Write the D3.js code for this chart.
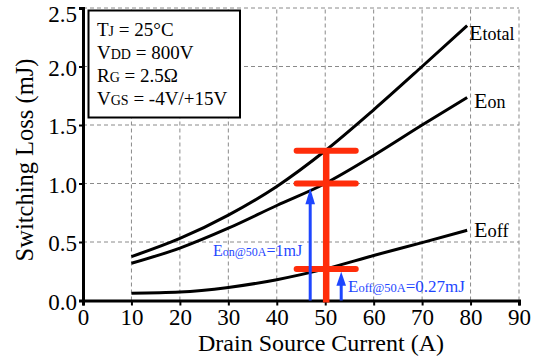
<!DOCTYPE html>
<html>
<head>
<meta charset="utf-8">
<script src="https://cdn.jsdelivr.net/npm/d3@7"></script>
<style>
  html, body { margin: 0; padding: 0; background: #fff; }
  svg { display: block; font-family: "Liberation Serif", "Times New Roman", serif; }
  svg text { font-family: "Liberation Serif", "Times New Roman", serif; }
</style>
</head>
<body>
<svg id="chart" width="541" height="360"></svg>
<script>
// ---- data ----
const current = [10, 20, 30, 40, 50, 60, 70, 79.3];
const eTotal  = [0.375, 0.53, 0.73, 0.975, 1.28, 1.63, 2.00, 2.35];
const eOn     = [0.318, 0.448, 0.618, 0.812, 1.00, 1.24, 1.50, 1.735];
const eOff    = [0.062, 0.072, 0.112, 0.178, 0.27, 0.385, 0.495, 0.60];
const xTicks  = [0, 10, 20, 30, 40, 50, 60, 70, 80, 90];
const yTicks  = [0.0, 0.5, 1.0, 1.5, 2.0, 2.5];
const markerCurrent = 50.2;
const markerLevels  = [1.28, 1.0, 0.27];
const markerHalfWidth = 6.1;
const arrowCurrents = [46.9, 53.3];
const arrowTips     = [0.96, 0.245];

// ---- layout ----
const FONT = "Liberation Serif, Times New Roman, serif";
const svg = d3.select("#chart");
const x = d3.scaleLinear().domain([0, 90]).range([83, 519]);
const y = d3.scaleLinear().domain([0, 2.5]).range([300.5, 8]);
const RED = "#ff2d0a", BLUE = "#1e46ff";

// grid
const grid = svg.append("g");
grid.selectAll("line.vx").data(xTicks.slice(1)).join("line")
  .attr("x1", d => x(d)).attr("x2", d => x(d)).attr("y1", y(0)).attr("y2", y(2.5))
  .attr("stroke", "#8a8a8a").attr("stroke-width", 1).attr("stroke-dasharray", "4,3");
grid.selectAll("line.hy").data(yTicks.slice(1)).join("line")
  .attr("y1", d => y(d)).attr("y2", d => y(d)).attr("x1", x(0)).attr("x2", x(90))
  .attr("stroke", "#8a8a8a").attr("stroke-width", 1).attr("stroke-dasharray", "4,3");

// axes
const xAxis = svg.append("g").attr("transform", `translate(0,${y(0)})`)
  .call(d3.axisBottom(x).tickValues(xTicks).tickFormat(d3.format("d")).tickSize(5).tickPadding(3));
const yAxis = svg.append("g").attr("transform", `translate(${x(0)},0)`)
  .call(d3.axisLeft(y).tickValues(yTicks).tickFormat(d3.format(".1f")).tickSize(4).tickPadding(2));
[xAxis, yAxis].forEach(a => {
  a.attr("font-family", FONT);
  a.select(".domain").attr("stroke", "#000").attr("stroke-width", 3);
  a.selectAll(".tick line").attr("stroke", "#000").attr("stroke-width", 2);
  a.selectAll(".tick text").attr("fill", "#000").attr("font-size", 23)
    .attr("font-family", FONT);
});
xAxis.selectAll(".tick text").attr("dy", "0.7em");
yAxis.selectAll(".tick text").attr("dy", d => d === 2.5 ? "0.6em" : "0.38em");

// curves
const line = d3.line().x((d, i) => x(current[i])).y(d => y(d)).curve(d3.curveMonotoneX);
[eTotal, eOn, eOff].forEach(s => {
  svg.append("path").datum(s).attr("d", line)
    .attr("fill", "none").attr("stroke", "#000").attr("stroke-width", 3);
});

// red markers
svg.append("line")
  .attr("x1", x(markerCurrent)).attr("x2", x(markerCurrent))
  .attr("y1", y(0) + 2).attr("y2", y(markerLevels[0]))
  .attr("stroke", RED).attr("stroke-width", 6.5);
svg.selectAll("line.mk").data(markerLevels).join("line")
  .attr("x1", x(markerCurrent - markerHalfWidth)).attr("x2", x(markerCurrent + markerHalfWidth))
  .attr("y1", d => y(d)).attr("y2", d => y(d))
  .attr("stroke", RED).attr("stroke-width", 6).attr("stroke-linecap", "round");

// blue arrows
arrowCurrents.forEach((c, i) => {
  const xa = x(c), yt = y(arrowTips[i]);
  const hh = i === 0 ? 16 : 14, hw = 4.8;
  svg.append("line").attr("x1", xa).attr("x2", xa).attr("y1", y(0)).attr("y2", yt + hh - 2)
    .attr("stroke", BLUE).attr("stroke-width", 3);
  svg.append("path")
    .attr("d", `M${xa},${yt} L${xa - hw},${yt + hh} L${xa + hw},${yt + hh} Z`)
    .attr("fill", BLUE);
});

// helper for subscript-style text
function richText(g, xPos, yPos, parts, fill) {
  const t = g.append("text").attr("x", xPos).attr("y", yPos).attr("fill", fill)
    .attr("font-family", FONT);
  parts.forEach(p => t.append("tspan").attr("font-size", p[1]).text(p[0]));
  return t;
}

// annotation texts
richText(svg, 213, 256, [["E", 16], ["on@50A", 12], ["=1mJ", 16]], BLUE);
richText(svg, 348, 292, [["E", 17], ["off@50A", 12.5], ["=0.27mJ", 17]], BLUE);

// curve labels
richText(svg, 469, 40, [["E", 22], ["total", 18]], "#000");
richText(svg, 474, 108, [["E", 22], ["on", 18]], "#000");
richText(svg, 474, 237, [["E", 22], ["off", 18.5]], "#000");

// info box
svg.append("rect").attr("x", 88.5).attr("y", 10.5).attr("width", 151.5).attr("height", 107)
  .attr("fill", "#fff").attr("stroke", "#000").attr("stroke-width", 2);
const boxLines = [
  [["T", 19], ["J", 14], [" = 25°C", 19]],
  [["V", 19], ["DD", 14], [" = 800V", 19]],
  [["R", 19], ["G", 14], [" = 2.5Ω", 19]],
  [["V", 19], ["GS", 14], [" = -4V/+15V", 19]]
];
boxLines.forEach((ln, i) => richText(svg, 97, 36 + i * 23, ln, "#000").attr("font-size", 19));

// axis titles
svg.append("text").attr("x", 321).attr("y", 351).attr("text-anchor", "middle")
  .attr("font-family", FONT).attr("font-size", 24).text("Drain Source Current (A)");
svg.append("text").attr("transform", "translate(33,160) rotate(-90)")
  .attr("text-anchor", "middle").attr("font-family", FONT).attr("font-size", 24.5)
  .text("Switching Loss (mJ)");
</script>
</body>
</html>
